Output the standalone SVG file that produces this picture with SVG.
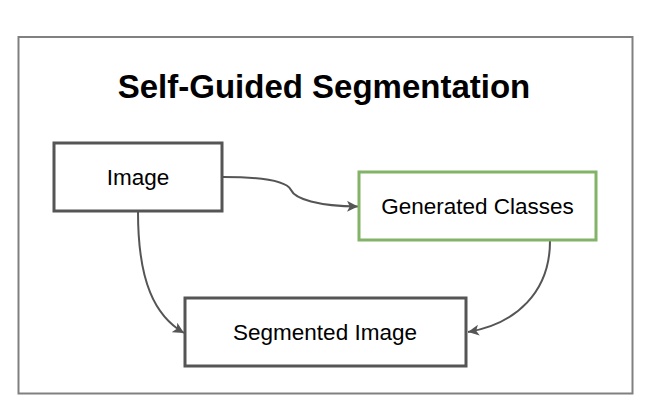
<svg xmlns="http://www.w3.org/2000/svg" width="648" height="414" viewBox="0 0 648 414">
<defs>
<style>
.frame{fill:#ffffff;stroke:#808080;stroke-width:2}
.node{fill:#ffffff;stroke:#555555;stroke-width:3}
.green{fill:#ffffff;stroke:#82b366;stroke-width:3}
.lbl{font-family:"Liberation Sans",Arial,sans-serif;font-size:22.5px;fill:#000000;text-anchor:middle}
.title{font-family:"Liberation Sans",Arial,sans-serif;font-size:33px;font-weight:bold;fill:#000000;text-anchor:middle}
.edge{fill:none;stroke:#555555;stroke-width:2}
</style>
<marker id="arr" viewBox="0 0 10 10" refX="10" refY="5" markerWidth="11" markerHeight="11" markerUnits="userSpaceOnUse" orient="auto">
<path d="M0,0 L10,5 L0,10 L2.5,5 Z" fill="#555555"/>
</marker>
</defs>
<rect width="648" height="414" fill="#ffffff"/>
<rect class="frame" x="18.5" y="37" width="614" height="356.5"/>
<text class="title" x="324" y="98">Self-Guided Segmentation</text>
<g id="connectors">
<path class="edge" d="M223,177 C268,177 287,182 291,190 C295,199 318,206 358,206.5" marker-end="url(#arr)"/>
<path class="edge" d="M138,212 C138,282 155,316 184,333" marker-end="url(#arr)"/>
<path class="edge" d="M550,241 C550,292 516,324 468,332" marker-end="url(#arr)"/>
</g>
<g id="node-image">
<rect class="node" x="54" y="143" width="168" height="68"/>
<text class="lbl" x="138" y="185">Image</text>
</g>
<g id="node-generated">
<rect class="green" x="359" y="172" width="237" height="68"/>
<text class="lbl" x="477.5" y="214">Generated Classes</text>
</g>
<g id="node-segmented">
<rect class="node" x="185" y="298" width="281" height="68"/>
<text class="lbl" x="325" y="340">Segmented Image</text>
</g>
</svg>
